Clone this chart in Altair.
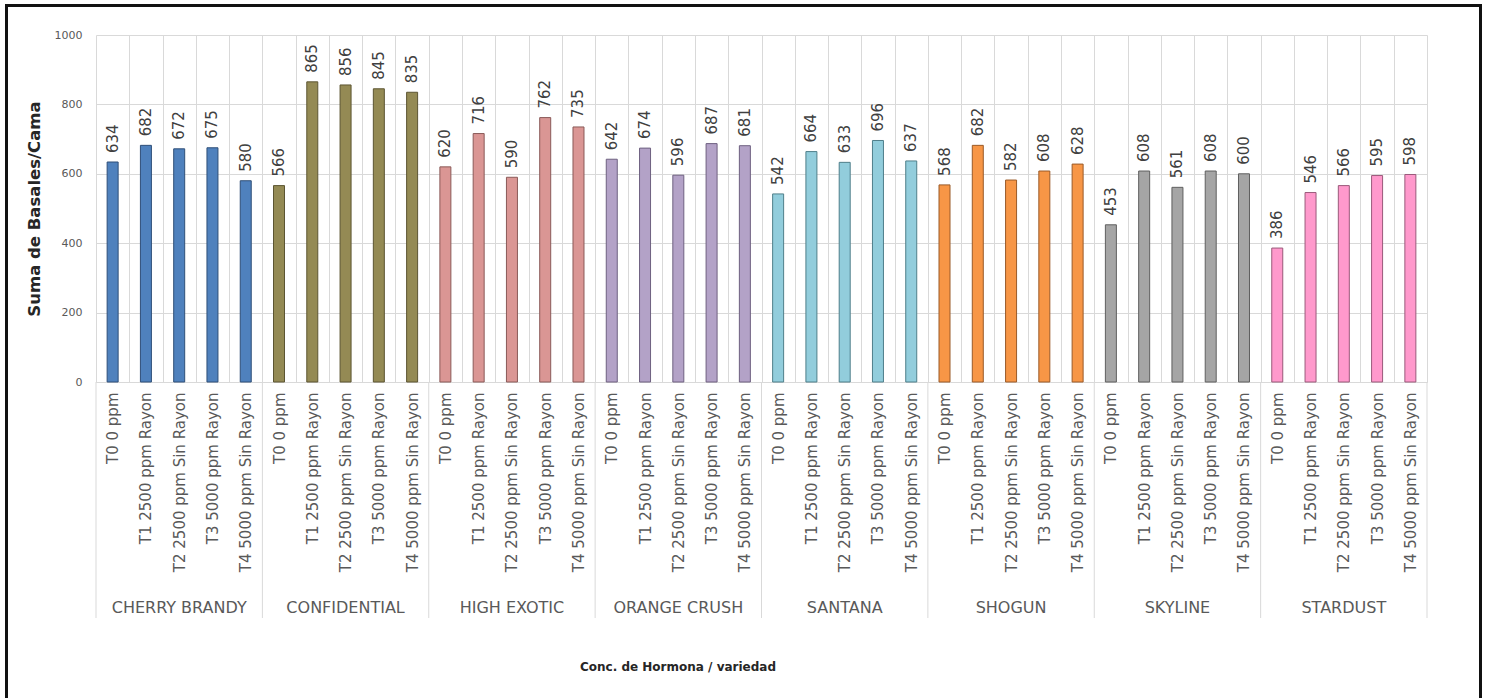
import altair as alt
import pandas as pd

# Varieties and hormone treatments
varieties = ["CHERRY BRANDY", "CONFIDENTIAL", "HIGH EXOTIC", "ORANGE CRUSH",
             "SANTANA", "SHOGUN", "SKYLINE", "STARDUST"]
treatments = ["T0 0 ppm", "T1 2500 ppm Rayon", "T2 2500 ppm Sin Rayon",
              "T3 5000 ppm Rayon", "T4 5000 ppm Sin Rayon"]

# Suma de basales por cama, T0..T4 for each variety
cherry_brandy = [634, 682, 672, 675, 580]
confidential = [566, 865, 856, 845, 835]
high_exotic = [620, 716, 590, 762, 735]
orange_crush = [642, 674, 596, 687, 681]
santana = [542, 664, 633, 696, 637]
shogun = [568, 682, 582, 608, 628]
skyline = [453, 608, 561, 608, 600]
stardust = [386, 546, 566, 595, 598]

series = [cherry_brandy, confidential, high_exotic, orange_crush,
          santana, shogun, skyline, stardust]

fills = ["#4F81BD", "#948A54", "#DA9694", "#B3A2C7",
         "#92CDDC", "#F79646", "#A5A5A5", "#FF99CC"]
edges = ["#2F4F78", "#5C5532", "#8A5A58", "#6E6080",
         "#4F7F8A", "#9A5A28", "#5F5F5F", "#9A5A7A"]

rows = []
for v, vals in zip(varieties, series):
    for t, val in zip(treatments, vals):
        rows.append({"key": f"{v}|{t}", "variety": v, "treatment": t, "value": val})
df = pd.DataFrame(rows)
keys = list(df["key"])

W, H = 1331, 347
FONT = "DejaVu Sans"
GREY = "#595959"
GRID = "#D9D9D9"

xscale = alt.Scale(domain=keys, paddingInner=0, paddingOuter=0)

base = alt.Chart(df)

bars = base.mark_bar(width=11, strokeWidth=1).encode(
    x=alt.X("key:N", sort=keys, scale=xscale,
            axis=alt.Axis(title=None, tickBand="extent", grid=True, gridColor=GRID,
                          ticks=False, domainColor=GRID, labelAngle=-90,
                          labelPadding=10, labelFont=FONT, labelFontSize=15,
                          labelColor=GREY, labelLimit=300,
                          labelExpr="split(datum.value, '|')[1]")),
    y=alt.Y("value:Q", scale=alt.Scale(domain=[0, 1000], nice=False),
            axis=alt.Axis(title="Suma de Basales/Cama", values=[0, 200, 400, 600, 800, 1000],
                          format="d", domain=False, ticks=False, gridColor=GRID,
                          labelPadding=14, labelFont=FONT, labelFontSize=11,
                          labelColor=GREY, titleFont=FONT, titleFontSize=16.5,
                          titleFontWeight="bold", titleColor="#262626",
                          titlePadding=12)),
    color=alt.Color("variety:N", scale=alt.Scale(domain=varieties, range=fills), legend=None),
    stroke=alt.Stroke("variety:N", scale=alt.Scale(domain=varieties, range=edges), legend=None),
)

labels = base.mark_text(angle=270, align="left", baseline="middle", dx=9,
                        font=FONT, fontSize=15, color="#404040").encode(
    x=alt.X("key:N", sort=keys, scale=xscale),
    y=alt.Y("value:Q"),
    text=alt.Text("value:Q"),
)

# Group separators below the axis
first_keys = pd.DataFrame({"key": [f"{v}|{treatments[0]}" for v in varieties]})
separators = alt.Chart(first_keys).mark_rule(color=GRID, strokeWidth=1).encode(
    x=alt.X("key:N", sort=keys, scale=xscale, bandPosition=0),
    y=alt.value(H), y2=alt.value(H + 236),
)
end_sep = alt.Chart(pd.DataFrame({"k": [0]})).mark_rule(color=GRID, strokeWidth=1).encode(
    x=alt.value(W), y=alt.value(H), y2=alt.value(H + 236),
)

# Variety names centered under each group
mid_keys = pd.DataFrame({"key": [f"{v}|{treatments[2]}" for v in varieties], "variety": varieties})
group_text = alt.Chart(mid_keys).mark_text(font=FONT, fontSize=16, color=GREY,
                                           baseline="middle", align="center").encode(
    x=alt.X("key:N", sort=keys, scale=xscale),
    y=alt.value(H + 226),
    text="variety:N",
)

x_title = alt.Chart(pd.DataFrame({"t": ["Conc. de Hormona / variedad"]})).mark_text(
    font=FONT, fontSize=12, fontWeight="bold", color="#262626", align="center",
    baseline="middle").encode(x=alt.value(582), y=alt.value(632), text="t:N")

frame = alt.Chart(pd.DataFrame({"k": [0]})).mark_rect(
    fill=None, stroke="#111111", strokeWidth=3).encode(
    x=alt.value(-89.5), x2=alt.value(1384.5), y=alt.value(-29.5), y2=alt.value(720))

chart = alt.layer(bars, labels, separators, end_sep, group_text, x_title, frame).properties(
    width=W, height=H,
    padding={"left": 96, "top": 35, "right": 61, "bottom": 316},
    autosize=alt.AutoSizeParams(type="none"),
    background="white",
).configure_view(stroke=None)

chart.save("out.html", embed_options={"renderer": "svg", "actions": False})
